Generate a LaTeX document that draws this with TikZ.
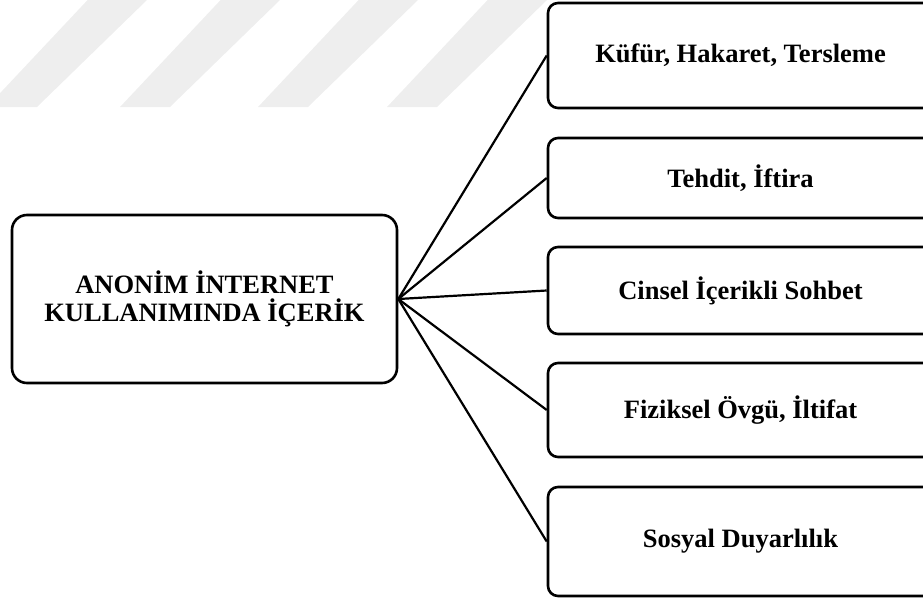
\documentclass[tikz,border=0pt]{standalone}
\usepackage{fontspec}
\setmainfont{Liberation Serif}
\definecolor{stripeg}{RGB}{238,238,238}

\begin{document}
\begin{tikzpicture}[x=1pt,y=-1pt,
    kutu/.style={draw, line width=2.6pt, fill=white, align=center, inner sep=0pt,
                 font=\fontsize{26.5}{28}\selectfont\bfseries},
    anakutu/.style={kutu, rounded corners=15pt, minimum width=385pt, minimum height=168pt},
    altkutu/.style={kutu, rounded corners=10pt, minimum width=385pt},
    bag/.style={line width=2.2pt}]
            \useasboundingbox (0,0) rectangle (923,597);
            \clip (0,0) rectangle (923,597);
            % soluk seritler
            \foreach \s in {-13,120,258,387}
                {\fill[stripeg] (\s,107) -- ++(50,0) -- ++(110,-107) -- ++(0,-10) -- ++(-50,0) -- ++(-110,117) -- cycle;}
            \node[anakutu] (ana) at (204.5,299) {ANONİM İNTERNET\\KULLANIMINDA İÇERİK};
            \node[altkutu, minimum height=105pt] (k1) at (740.5,55.5) {Küfür, Hakaret, Tersleme};
            \node[altkutu, minimum height=80pt] (k2) at (740.5,178) {Tehdit, İftira};
            \node[altkutu, minimum height=87pt] (k3) at (740.5,290.5) {Cinsel İçerikli Sohbet};
            \node[altkutu, minimum height=94pt] (k4) at (740.5,410) {Fiziksel Övgü, İltifat};
            \node[altkutu, minimum height=109pt] (k5) at (740.5,541.5) {Sosyal Duyarlılık};
            \foreach \k in {1,...,5}
                {\draw[bag] (ana.east) -- (k\k.west);}
\end{tikzpicture}
\end{document}
